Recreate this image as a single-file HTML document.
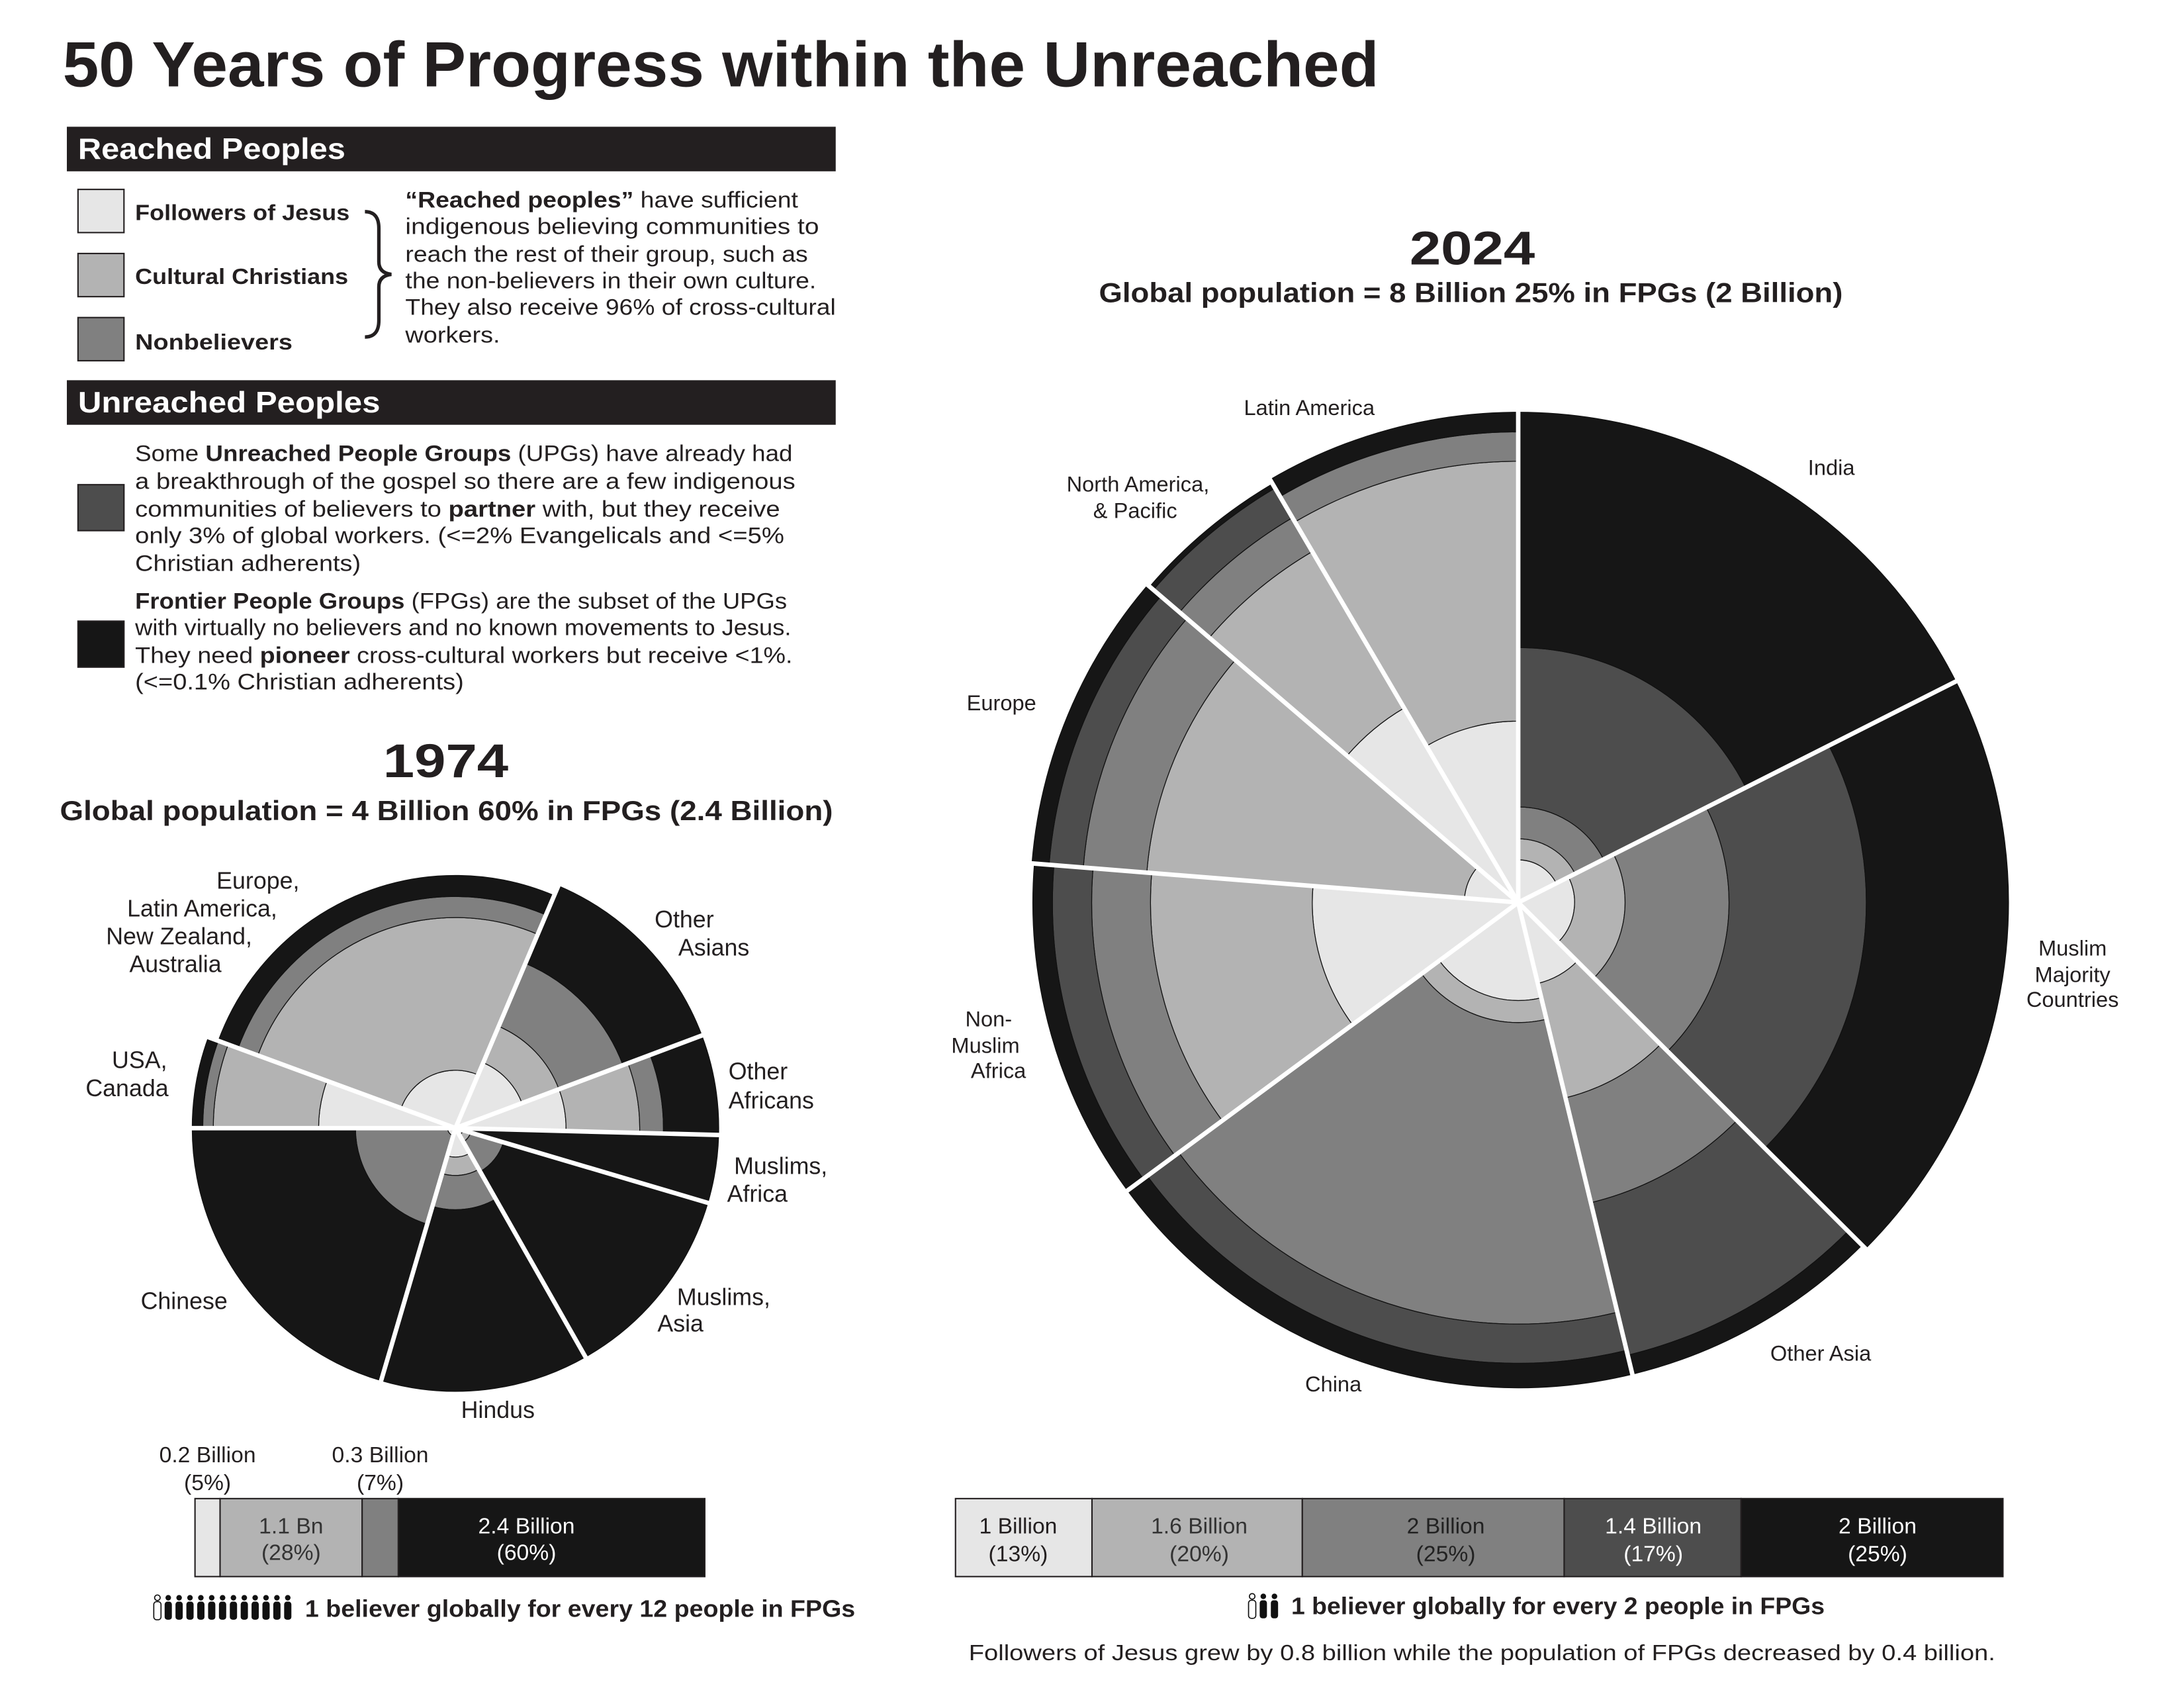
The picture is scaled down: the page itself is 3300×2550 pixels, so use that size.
<!DOCTYPE html>
<html><head><meta charset="utf-8"><style>
html,body{margin:0;padding:0;background:#fff;}
svg{display:block;}
text{font-family:"Liberation Sans",sans-serif;fill:#231f20;}
.b{font-weight:bold;}
</style></head><body>
<svg id="s" xmlns="http://www.w3.org/2000/svg" width="3300" height="2550" viewBox="0 0 1568 1212" preserveAspectRatio="none">
<rect width="1568" height="1212" fill="#fff"/>
<text x="45" y="62" class="b" font-size="46" textLength="945" lengthAdjust="spacingAndGlyphs">50 Years of Progress within the Unreached</text>

<rect x="48" y="91" width="552" height="32" fill="#231f20"/>
<text x="56" y="114" class="b" font-size="21" style="fill:#fff" textLength="192" lengthAdjust="spacingAndGlyphs">Reached Peoples</text>
<rect x="56" y="136" width="33" height="31" fill="#e6e6e6" stroke="#231f20" stroke-width="1"/>
<rect x="56" y="182" width="33" height="31" fill="#b3b3b3" stroke="#231f20" stroke-width="1"/>
<rect x="56" y="228" width="33" height="31" fill="#808080" stroke="#231f20" stroke-width="1"/>
<text x="97" y="158" class="b" font-size="16" textLength="154" lengthAdjust="spacingAndGlyphs">Followers of Jesus</text>
<text x="97" y="204" class="b" font-size="16" textLength="153" lengthAdjust="spacingAndGlyphs">Cultural Christians</text>
<text x="97" y="251" class="b" font-size="16" textLength="113" lengthAdjust="spacingAndGlyphs">Nonbelievers</text>
<path d="M262,152 Q272,152 272,164 L272,188 Q272,196 281,197 Q272,198 272,206 L272,230 Q272,242 262,242" fill="none" stroke="#231f20" stroke-width="2.5"/>
<g font-size="16.5">
<text x="291" y="149" textLength="282" lengthAdjust="spacingAndGlyphs"><tspan class="b">“Reached peoples”</tspan> have sufficient</text>
<text x="291" y="168" textLength="297" lengthAdjust="spacingAndGlyphs">indigenous believing communities to</text>
<text x="291" y="188" textLength="289" lengthAdjust="spacingAndGlyphs">reach the rest of their group, such as</text>
<text x="291" y="207" textLength="295" lengthAdjust="spacingAndGlyphs">the non-believers in their own culture.</text>
<text x="291" y="226" textLength="309" lengthAdjust="spacingAndGlyphs">They also receive 96% of cross-cultural</text>
<text x="291" y="246" textLength="68" lengthAdjust="spacingAndGlyphs">workers.</text>
</g>

<rect x="48" y="273" width="552" height="32" fill="#231f20"/>
<text x="56" y="296" class="b" font-size="21" style="fill:#fff" textLength="217" lengthAdjust="spacingAndGlyphs">Unreached Peoples</text>
<rect x="56" y="348" width="33" height="33" fill="#4d4d4d" stroke="#231f20" stroke-width="1"/>
<rect x="56" y="446" width="33" height="33" fill="#161616" stroke="#231f20" stroke-width="1"/>
<g font-size="16.5">
<text x="97" y="331" textLength="472" lengthAdjust="spacingAndGlyphs">Some <tspan class="b">Unreached People Groups</tspan> (UPGs) have already had</text>
<text x="97" y="351" textLength="474" lengthAdjust="spacingAndGlyphs">a breakthrough of the gospel so there are a few indigenous</text>
<text x="97" y="371" textLength="463" lengthAdjust="spacingAndGlyphs">communities of believers to <tspan class="b">partner</tspan> with, but they receive</text>
<text x="97" y="390" textLength="466" lengthAdjust="spacingAndGlyphs">only 3% of global workers. (&lt;=2% Evangelicals and &lt;=5%</text>
<text x="97" y="410" textLength="162" lengthAdjust="spacingAndGlyphs">Christian adherents)</text>
<text x="97" y="437" textLength="468" lengthAdjust="spacingAndGlyphs"><tspan class="b">Frontier People Groups</tspan> (FPGs) are the subset of the UPGs</text>
<text x="97" y="456" textLength="471" lengthAdjust="spacingAndGlyphs">with virtually no believers and no known movements to Jesus.</text>
<text x="97" y="476" textLength="472" lengthAdjust="spacingAndGlyphs">They need <tspan class="b">pioneer</tspan> cross-cultural workers but receive &lt;1%.</text>
<text x="97" y="495" textLength="236" lengthAdjust="spacingAndGlyphs">(&lt;=0.1% Christian adherents)</text>
</g>

<text x="320" y="558" class="b" font-size="34" text-anchor="middle" textLength="90" lengthAdjust="spacingAndGlyphs">1974</text>
<text x="43" y="589" class="b" font-size="20" textLength="555" lengthAdjust="spacingAndGlyphs">Global population = 4 Billion 60% in FPGs (2.4 Billion)</text>
<text x="1057" y="190" class="b" font-size="34" text-anchor="middle" textLength="90" lengthAdjust="spacingAndGlyphs">2024</text>
<text x="789" y="217" class="b" font-size="20" textLength="534" lengthAdjust="spacingAndGlyphs">Global population = 8 Billion 25% in FPGs (2 Billion)</text>

<g id="pies"></g>

<g font-size="17">
<text x="215" y="638" text-anchor="end">Europe,</text>
<text x="199" y="658" text-anchor="end">Latin America,</text>
<text x="181" y="678" text-anchor="end">New Zealand,</text>
<text x="159" y="698" text-anchor="end">Australia</text>
<text x="120" y="767" text-anchor="end">USA,</text>
<text x="121" y="787" text-anchor="end">Canada</text>
<text x="470" y="666">Other</text>
<text x="487" y="686">Asians</text>
<text x="523" y="775">Other</text>
<text x="523" y="796">Africans</text>
<text x="527" y="843">Muslims,</text>
<text x="522" y="863">Africa</text>
<text x="486" y="937">Muslims,</text>
<text x="472" y="956">Asia</text>
<text x="101" y="940">Chinese</text>
<text x="331" y="1018">Hindus</text>
</g>
<g font-size="15.5">
<text x="940" y="298" text-anchor="middle">Latin America</text>
<text x="817" y="353" text-anchor="middle">North America,</text>
<text x="815" y="372" text-anchor="middle">&amp; Pacific</text>
<text x="694" y="510">Europe</text>
<text x="1298" y="341">India</text>
<text x="1488" y="686" text-anchor="middle">Muslim</text>
<text x="1488" y="705" text-anchor="middle">Majority</text>
<text x="1488" y="723" text-anchor="middle">Countries</text>
<text x="693" y="737">Non-</text>
<text x="683" y="756">Muslim</text>
<text x="697" y="774">Africa</text>
<text x="1271" y="977">Other Asia</text>
<text x="937" y="999">China</text>
</g>

<g stroke="#231f20" stroke-width="1">
<rect x="140" y="1076" width="18" height="56" fill="#e6e6e6"/>
<rect x="158" y="1076" width="102" height="56" fill="#b3b3b3"/>
<rect x="260" y="1076" width="26" height="56" fill="#808080"/>
<rect x="286" y="1076" width="220" height="56" fill="#161616"/>
<rect x="686" y="1076" width="98" height="56" fill="#e6e6e6"/>
<rect x="784" y="1076" width="151" height="56" fill="#b3b3b3"/>
<rect x="935" y="1076" width="188" height="56" fill="#808080"/>
<rect x="1123" y="1076" width="127" height="56" fill="#4d4d4d"/>
<rect x="1250" y="1076" width="188" height="56" fill="#161616"/>
</g>
<g font-size="16" text-anchor="middle">
<text x="149" y="1050">0.2 Billion</text><text x="149" y="1070">(5%)</text>
<text x="273" y="1050">0.3 Billion</text><text x="273" y="1070">(7%)</text>
<text x="209" y="1101" style="fill:#333">1.1 Bn</text><text x="209" y="1120" style="fill:#333">(28%)</text>
<text x="378" y="1101" style="fill:#fff">2.4 Billion</text><text x="378" y="1120" style="fill:#fff">(60%)</text>
<text x="731" y="1101">1 Billion</text><text x="731" y="1121">(13%)</text>
<text x="861" y="1101" style="fill:#333">1.6 Billion</text><text x="861" y="1121" style="fill:#333">(20%)</text>
<text x="1038" y="1101" style="fill:#222">2 Billion</text><text x="1038" y="1121" style="fill:#222">(25%)</text>
<text x="1187" y="1101" style="fill:#fff">1.4 Billion</text><text x="1187" y="1121" style="fill:#fff">(17%)</text>
<text x="1348" y="1101" style="fill:#fff">2 Billion</text><text x="1348" y="1121" style="fill:#fff">(25%)</text>
</g>
<g id="icons"></g>
<text x="219" y="1161" class="b" font-size="17" textLength="395" lengthAdjust="spacingAndGlyphs">1 believer globally for every 12 people in FPGs</text>
<text x="927" y="1159" class="b" font-size="17" textLength="383" lengthAdjust="spacingAndGlyphs">1 believer globally for every 2 people in FPGs</text>
<text x="1064" y="1192" font-size="16" text-anchor="middle" textLength="737" lengthAdjust="spacingAndGlyphs">Followers of Jesus grew by 0.8 billion while the population of FPGs decreased by 0.4 billion.</text>
</svg>
<script>
var NS="http://www.w3.org/2000/svg";
var C={L:"#e6e6e6",C:"#b3b3b3",N:"#808080",U:"#4d4d4d",F:"#161616"};
function pt(cx,cy,r,a){a=a*Math.PI/180;return [cx+r*Math.sin(a),cy-r*Math.cos(a)];}
function sector(g,cx,cy,r0,r1,a0,a1,fill){
 var p0=pt(cx,cy,r1,a0),p1=pt(cx,cy,r1,a1),large=(a1-a0)>180?1:0,d;
 if(r0<=0.01){d="M"+cx+","+cy+"L"+p0+"A"+r1+","+r1+" 0 "+large+" 1 "+p1+"Z";}
 else{var q1=pt(cx,cy,r0,a1),q0=pt(cx,cy,r0,a0);
 d="M"+q0+"L"+p0+"A"+r1+","+r1+" 0 "+large+" 1 "+p1+"L"+q1+"A"+r0+","+r0+" 0 "+large+" 0 "+q0+"Z";}
 var e=document.createElementNS(NS,"path");e.setAttribute("d",d);e.setAttribute("fill",fill);
 e.setAttribute("stroke","#111");e.setAttribute("stroke-width","0.6");g.appendChild(e);}
function pie(cx,cy,R,data){
 var g=document.getElementById("pies");
 data.forEach(function(s){var prev=0;s[2].forEach(function(l){sector(g,cx,cy,prev*R,l[0]*R,s[0],s[1],C[l[1]]);prev=l[0];});});
 data.forEach(function(s){var p=pt(cx,cy,R+3,s[0]);var e=document.createElementNS(NS,"line");
 e.setAttribute("x1",cx);e.setAttribute("y1",cy);e.setAttribute("x2",p[0]);e.setAttribute("y2",p[1]);
 e.setAttribute("stroke","#fff");e.setAttribute("stroke-width","3.2");g.appendChild(e);});}
pie(1090,648,352,[
 [0,63.2,[[0.087,"L"],[0.13,"C"],[0.195,"N"],[0.52,"U"],[1,"F"]]],
 [63.2,134.9,[[0.115,"L"],[0.218,"C"],[0.43,"N"],[0.71,"U"],[1,"F"]]],
 [134.9,166.4,[[0.17,"L"],[0.41,"C"],[0.63,"N"],[0.95,"U"],[0.99,"F"]]],
 [166.4,233.6,[[0.2,"L"],[0.245,"C"],[0.86,"N"],[0.94,"U"],[0.99,"F"]]],
 [233.6,274.6,[[0.42,"L"],[0.75,"C"],[0.87,"N"],[0.95,"U"],[0.99,"F"]]],
 [274.6,310.6,[[0.11,"L"],[0.76,"C"],[0.89,"N"],[0.96,"U"],[0.995,"F"]]],
 [310.6,329.6,[[0.46,"L"],[0.83,"C"],[0.91,"N"],[0.98,"U"],[0.99,"F"]]],
 [329.6,360,[[0.37,"L"],[0.9,"C"],[0.96,"N"],[1,"F"]]]
]);
pie(327,810,189,[
 [290.2,383,[[0.22,"L"],[0.8,"C"],[0.88,"N"],[0.96,"F"]]],
 [270,290.2,[[0.52,"L"],[0.92,"C"],[0.96,"N"],[1,"F"]]],
 [23,69.4,[[0.27,"L"],[0.42,"C"],[0.68,"N"],[1,"F"]]],
 [69.4,91.5,[[0.42,"L"],[0.7,"C"],[0.79,"N"],[1,"F"]]],
 [91.5,106.5,[[0.02,"L"],[1,"F"]]],
 [106.5,150.4,[[0.03,"L"],[0.06,"C"],[0.19,"N"],[1,"F"]]],
 [150.4,196.4,[[0.11,"L"],[0.18,"C"],[0.31,"N"],[1,"F"]]],
 [196.4,270,[[0.03,"L"],[0.38,"N"],[1,"F"]]]
]);
function person(x,y,white){var g=document.getElementById("icons");
 var c=document.createElementNS(NS,"circle");c.setAttribute("cx",x);c.setAttribute("cy",y+2.2);c.setAttribute("r",2);
 var r=document.createElementNS(NS,"rect");r.setAttribute("x",x-2.6);r.setAttribute("y",y+5);r.setAttribute("width",5.2);r.setAttribute("height",13);r.setAttribute("rx",2);
 [c,r].forEach(function(e){e.setAttribute("fill",white?"#fff":"#111");e.setAttribute("stroke","#111");e.setAttribute("stroke-width",white?"0.8":"0");g.appendChild(e);});}
for(var i=0;i<13;i++)person(113+i*7.8,1145,i==0);
for(var i=0;i<3;i++)person(899+i*8,1144,i==0);
</script>
</body></html>
